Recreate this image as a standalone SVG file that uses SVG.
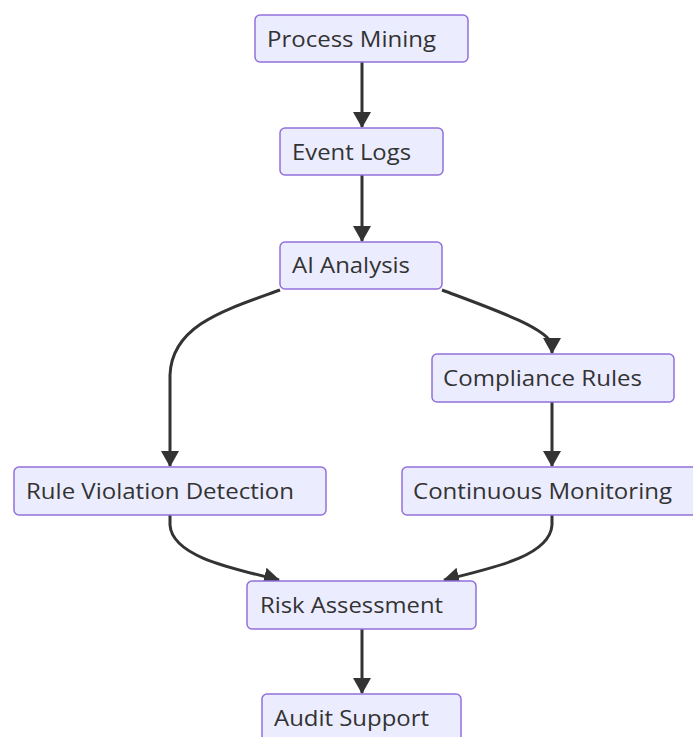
<svg xmlns="http://www.w3.org/2000/svg" width="693" height="737" viewBox="0 0 693 737">
<style>
.node rect{fill:#ECECFF;stroke:#9370DB;stroke-width:1.5}
.node text{font-family:"Open Sans","Noto Sans",sans-serif;font-size:21px;fill:#333333}
.edges path{fill:none;stroke:#333333;stroke-width:3}
</style>
<defs>
<marker id="arr" markerUnits="userSpaceOnUse" viewBox="0 0 16 18" refX="15" refY="9" markerWidth="16" markerHeight="18" orient="auto">
<path d="M0,0 L16,9 L0,18 Z" fill="#333333"/>
</marker>
</defs>
<rect width="693" height="737" fill="#ffffff"/>
<g class="edges">
<path d="M362,62 L362,127" marker-end="url(#arr)"/>
<path d="M362,175 L362,241" marker-end="url(#arr)"/>
<path d="M280,290 C225,310 172,325 170,375 L170,466" marker-end="url(#arr)"/>
<path d="M442,290 C490,308 548,328 552,345 L552,353" marker-end="url(#arr)"/>
<path d="M552,402 L552,466" marker-end="url(#arr)"/>
<path d="M170,515 L170,525 C172,555 225,567 279,580" marker-end="url(#arr)"/>
<path d="M552,515 L552,525 C550,555 498,567 444,580" marker-end="url(#arr)"/>
<path d="M362,629 L362,693" marker-end="url(#arr)"/>
</g>
<g id="process-mining" class="node"><rect x="255" y="15" width="213" height="47" rx="5"/><text x="267" y="47" textLength="169" lengthAdjust="spacingAndGlyphs">Process Mining</text></g>
<g id="event-logs" class="node"><rect x="280" y="128" width="163" height="47" rx="5"/><text x="292" y="160" textLength="119" lengthAdjust="spacingAndGlyphs">Event Logs</text></g>
<g id="ai-analysis" class="node"><rect x="280" y="242" width="162" height="47" rx="5"/><text x="292" y="273" textLength="118" lengthAdjust="spacingAndGlyphs">AI Analysis</text></g>
<g id="compliance-rules" class="node"><rect x="432" y="354" width="242" height="48" rx="5"/><text x="443" y="386" textLength="199" lengthAdjust="spacingAndGlyphs">Compliance Rules</text></g>
<g id="rule-violation-detection" class="node"><rect x="14" y="467" width="312" height="48" rx="5"/><text x="26" y="499" textLength="268" lengthAdjust="spacingAndGlyphs">Rule Violation Detection</text></g>
<g id="continuous-monitoring" class="node"><rect x="402" y="467" width="300" height="48" rx="5"/><text x="413" y="499" textLength="259" lengthAdjust="spacingAndGlyphs">Continuous Monitoring</text></g>
<g id="risk-assessment" class="node"><rect x="247" y="581" width="229" height="48" rx="5"/><text x="260" y="613" textLength="183" lengthAdjust="spacingAndGlyphs">Risk Assessment</text></g>
<g id="audit-support" class="node"><rect x="262" y="694" width="199" height="60" rx="5"/><text x="274" y="726" textLength="155" lengthAdjust="spacingAndGlyphs">Audit Support</text></g>
</svg>
